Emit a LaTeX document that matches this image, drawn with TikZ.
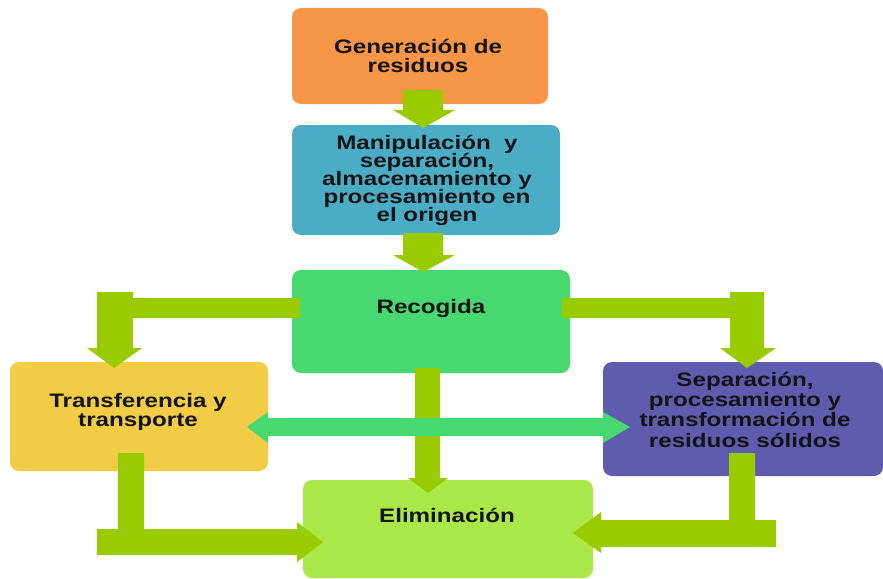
\documentclass[tikz,border=0pt]{standalone}
\usepackage{fontspec}
\newfontfamily\lblfont{Liberation Sans}[FakeStretch=1.24]
\newcommand\mytight{\setlength{\lineskiplimit}{-50pt}\setlength{\lineskip}{0pt}}
\newcommand\lblA{\lblfont\bfseries\fontsize{19.5}{19}\selectfont\mytight}
\newcommand\lblB{\lblfont\bfseries\fontsize{19.5}{18}\selectfont\mytight}
\newcommand\lblC{\lblfont\bfseries\fontsize{19.5}{20.3}\selectfont\mytight}
\definecolor{cOrange}{HTML}{F79646}
\definecolor{cBlue}{HTML}{4BACC6}
\definecolor{cGreen}{HTML}{47D870}
\definecolor{cYellow}{HTML}{F2CC45}
\definecolor{cPurple}{HTML}{5F5BAF}
\definecolor{cLime}{HTML}{AAE84A}
\definecolor{cArrow}{HTML}{99CC00}
\definecolor{cText}{HTML}{141414}
\tikzset{
  box/.style={rounded corners=9pt, inner sep=0pt, draw=none},
  lbl/.style={inner sep=0pt, align=center, font=\lblA, text=cText},
  blk/.style={fill=cArrow, draw=none},
  blk2/.style={fill=cGreen, draw=none}
}
\begin{document}
\begin{tikzpicture}[x=1pt,y=-1pt]
\useasboundingbox (0,0) rectangle (883,578);
% boxes
\node[box, fill=cOrange, minimum width=256pt, minimum height=96pt] (gen) at (420,56) {};
\node[box, fill=cBlue, minimum width=268pt, minimum height=110pt] (man) at (426,180) {};
\node[box, fill=cGreen, minimum width=278pt, minimum height=103pt] (rec) at (431,321.5) {};
\node[box, fill=cYellow, minimum width=258pt, minimum height=109pt] (tra) at (139,416.5) {};
\node[box, fill=cPurple, minimum width=280pt, minimum height=114pt] (sep) at (743,419) {};
\node[box, fill=cLime, minimum width=290pt, minimum height=98pt] (eli) at (448,529) {};
% texts (anchor=base is the baseline of the last line)
\node[lbl, anchor=base] (genT) at (418,72) {Generación de\\residuos};
\node[lbl, anchor=base, font=\lblB] (manT) at (427,221) {Manipulación\ \ y\\separación,\\almacenamiento y\\procesamiento en\\el origen};
\node[lbl, anchor=base] (recT) at (431,313) {Recogida};
\node[lbl, anchor=base] (traT) at (138,426) {Transferencia y\\transporte};
\node[lbl, anchor=base, font=\lblC] (sepT) at (745,447) {Separación,\\procesamiento y\\transformación de\\residuos sólidos};
\node[lbl, anchor=base] (eliT) at (447,522) {Eliminación};
% block arrows
\fill[blk] (403,90) -- (443,90) -- (443,110) -- (455,110) -- (423,128) -- (393,110) -- (403,110) -- cycle;
\fill[blk] (403,233) -- (443,233) -- (443,255) -- (455,255) -- (423,272) -- (393,255) -- (403,255) -- cycle;
% Recogida -> Transferencia
\fill[blk] (300,298) -- (300,318) -- (133,318) -- (133,348) -- (142,348) -- (114,368) -- (87,348) -- (97,348) -- (97,292) -- (133,292) -- (133,298) -- cycle;
% Recogida -> Separacion
\fill[blk] (562,298) -- (562,318) -- (730,318) -- (730,348) -- (720,348) -- (747,368) -- (776,348) -- (764,348) -- (764,292) -- (730,292) -- (730,298) -- cycle;
% Recogida -> Eliminacion
\fill[blk] (415,368) -- (440,368) -- (440,478) -- (448,478) -- (428,493) -- (408,478) -- (415,478) -- cycle;
% Transferencia -> Eliminacion
\fill[blk] (118,453) -- (144,453) -- (144,529) -- (297,529) -- (297,522) -- (323,542) -- (297,562) -- (297,555) -- (97,555) -- (97,529) -- (118,529) -- cycle;
% Separacion -> Eliminacion
\fill[blk] (729,453) -- (755,453) -- (755,520) -- (776,520) -- (776,547) -- (601,547) -- (601,553) -- (573,533) -- (601,512) -- (601,520) -- (729,520) -- cycle;
% bidirectional
\fill[blk2] (247,427) -- (268,412) -- (268,418) -- (603,418) -- (603,412) -- (630,427) -- (603,443) -- (603,436) -- (268,436) -- (268,443) -- cycle;
\end{tikzpicture}
\end{document}
